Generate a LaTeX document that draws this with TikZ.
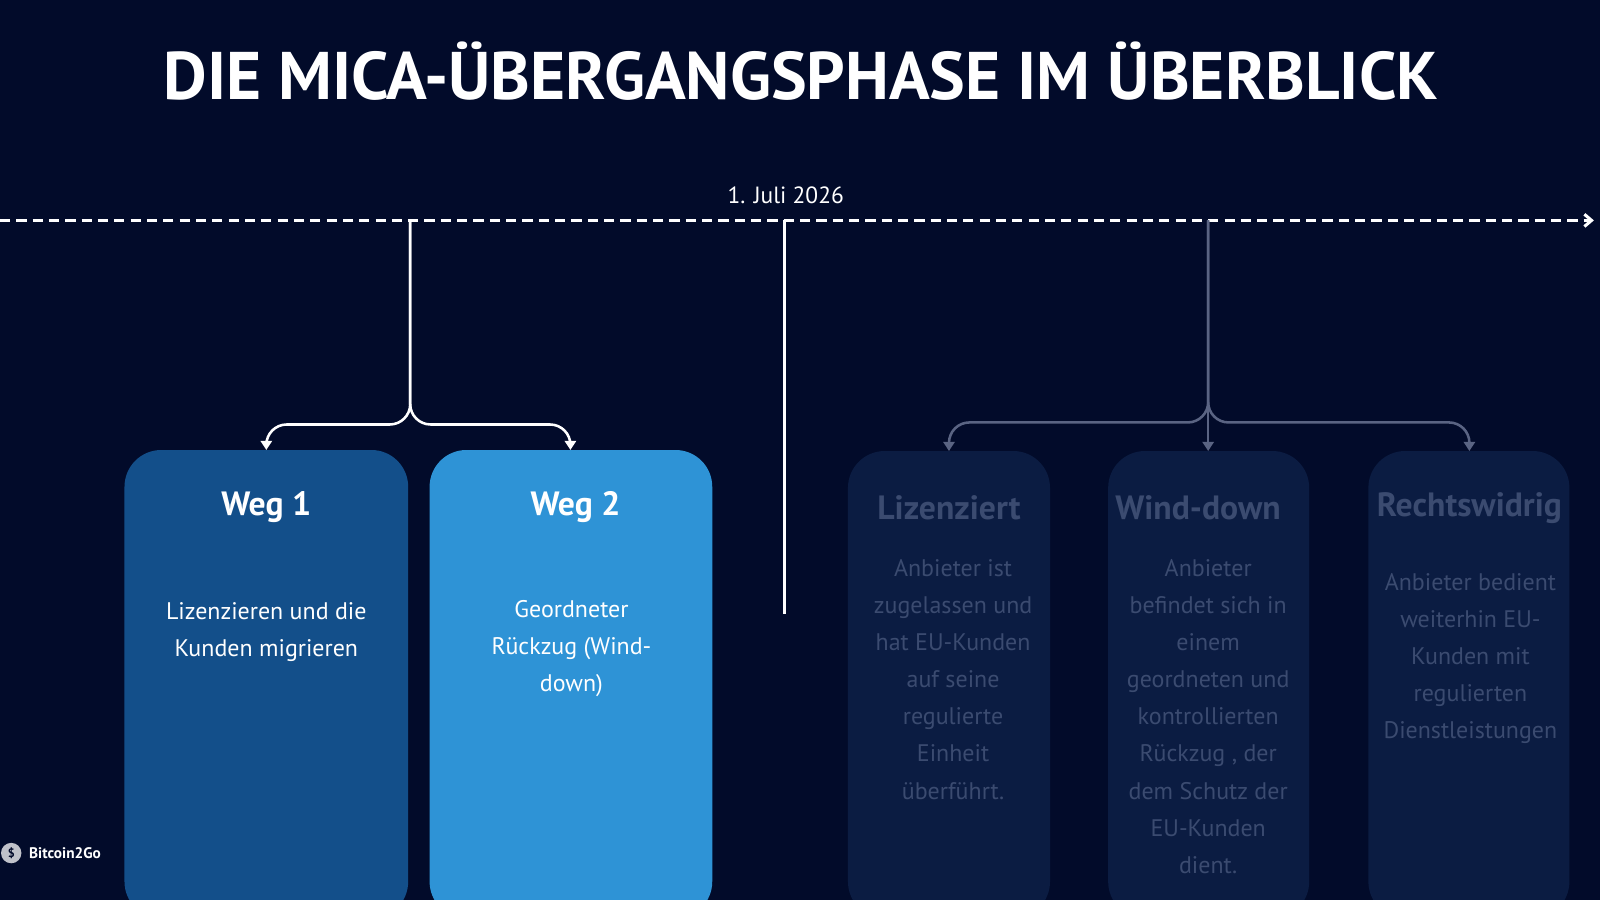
\documentclass[tikz,border=0pt]{standalone}
\usepackage{fontspec}
\setmainfont{PT Sans}
\usetikzlibrary{arrows.meta}
\definecolor{bg}{HTML}{020B2A}
\definecolor{wegA}{HTML}{134F8A}
\definecolor{wegB}{HTML}{2E93D6}
\definecolor{faded}{HTML}{0B1C42}
\definecolor{fadetxt}{HTML}{3B4B70}
\definecolor{grayline}{HTML}{5A6483}
\tikzset{
  card/.style={rounded corners=36pt},
  head/.style={font=\bfseries\fontsize{33}{38}\selectfont, anchor=center},
  body/.style={font=\fontsize{23.5}{36.3}\selectfont, align=center, anchor=north},
  conn/.style={line width=2.5pt, -{Triangle[length=9pt,width=11pt]}},
}
\begin{document}
\begin{tikzpicture}[x=1pt,y=-1pt]
\fill[bg] (0,0) rectangle (1568,882);
\useasboundingbox (0,0) rectangle (1568,882);
\node[font=\bfseries\fontsize{66}{74}\selectfont, text=white] (title) at (785,70) {DIE MICA-ÜBERGANGSPHASE IM ÜBERBLICK};
% timeline
\coordinate (tl0) at (0,216);
\coordinate (tl1) at (1562,216);
\draw[white, line width=3pt, dash pattern=on 10pt off 6pt, -{Straight Barb[length=7pt,width=12pt]}] (tl0) -- (tl1);
\node[text=white, font=\fontsize{23}{28}\selectfont] (date) at (770,191) {1. Juli 2026};
\coordinate (d0) at (769,216);
\coordinate (d1) at (769,602);
\draw[white, line width=3pt] (d0) -- (d1);
% cards
\fill[wegA, card] (122,900) -- (122,441) -- (400,441) -- (400,900) -- cycle;
\fill[wegB, card] (421,900) -- (421,441) -- (698,441) -- (698,900) -- cycle;
\fill[faded, card] (831,900) -- (831,442) -- (1029,442) -- (1029,900) -- cycle;
\fill[faded, card] (1086,900) -- (1086,442) -- (1283,442) -- (1283,900) -- cycle;
\fill[faded, card] (1341,900) -- (1341,442) -- (1538,442) -- (1538,900) -- cycle;
\fill[bg] (0,882) rectangle (1568,900);
\coordinate (c1) at (261,441); \coordinate (c2) at (559,441);
\coordinate (c3) at (930,442); \coordinate (c4) at (1184,442); \coordinate (c5) at (1440,442);
\node[head, text=white] (h1) at (261,497) {Weg 1};
\node[head, text=white] (h2) at (564,497) {Weg 2};
\node[body, text=white] (b1) at (261,587) {Lizenzieren und die\\Kunden migrieren};
\node[body, text=white] (b2) at (560,585) {Geordneter\\Rückzug (Wind-\\down)};
\node[head, text=fadetxt] (h3) at (930,498) {Lizenziert};
\node[head, text=fadetxt] (h4) at (1174,498) {Wind-down};
\node[head, text=fadetxt] (h5) at (1440,498) {Rechtswidrig};
\node[body, text=fadetxt] (b3) at (934,545) {Anbieter ist\\zugelassen und\\hat EU-Kunden\\auf seine\\regulierte\\Einheit\\überführt.};
\node[body, text=fadetxt] (b4) at (1184,545) {Anbieter\\befindet sich in\\einem\\geordneten und\\kontrollierten\\Rückzug , der\\dem Schutz der\\EU-Kunden\\dient.};
\node[body, text=fadetxt] (b5) at (1441,558) {Anbieter bedient\\weiterhin EU-\\Kunden mit\\regulierten\\Dienstleistungen};
% bracket 1
\coordinate (s1) at (402,216);
\draw[white, conn, rounded corners=20pt] (s1) -- (402,416) -- (261,416) -- (c1);
\draw[white, conn, rounded corners=20pt] (s1) -- (402,416) -- (559,416) -- (c2);
% bracket 2
\coordinate (s2) at (1184,216);
\draw[grayline, conn, rounded corners=20pt] (s2) -- (1184,414) -- (930,414) -- (c3);
\draw[grayline, conn, rounded corners=20pt] (s2) -- (1184,414) -- (1440,414) -- (c5);
\draw[grayline, conn] (s2) -- (c4);
% logo
\fill[white!75!bg] (11,836) circle (10pt);
\node[font=\bfseries\fontsize{12}{14}\selectfont, text=bg] (lg) at (11,836) {\$};
\node[font=\bfseries\fontsize{15}{18}\selectfont, text=white, anchor=west] (logo) at (25,836) {Bitcoin2Go};
\end{tikzpicture}
\end{document}
